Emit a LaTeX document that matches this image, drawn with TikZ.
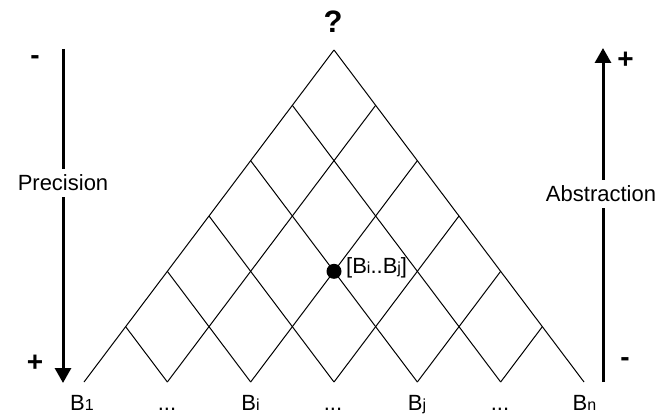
\documentclass[tikz,border=0pt]{standalone}
\usepackage{fontspec}
\setmainfont{Liberation Sans}
\usetikzlibrary{arrows.meta}
\tikzset{
  gridline/.style={line width=1pt, black},
  bigarrow/.style={line width=3pt, -{Triangle[width=16pt,length=15pt]}},
  lbl/.style={font=\fontsize{22}{26}\selectfont, inner sep=0pt},
  sign/.style={font=\fontsize{28}{30}\selectfont\bfseries, inner sep=0pt},
  axislbl/.style={font=\fontsize{22}{26}\selectfont, fill=white, inner xsep=2pt, inner ysep=6pt},
  blbl/.style={font=\fontsize{22}{26}\selectfont, inner sep=0pt, anchor=base},
}
\newcommand{\sbx}[1]{{\fontsize{16}{18}\selectfont #1}}
\begin{document}
\begin{tikzpicture}[x=1pt,y=-1pt]
\useasboundingbox (0,0) rectangle (672,414);
% grid points
\foreach \k in {0,...,6} {
  \coordinate (b\k) at ({84+500*\k/6}, 382);
  \coordinate (r\k) at ({84+250*(\k+6)/6}, {382-332*(6-\k)/6});
  \coordinate (l\k) at ({84+250*\k/6}, {382-332*\k/6});
}
\foreach \k in {0,...,5} { \draw[gridline] (b\k) -- (r\k); }
\foreach \k in {1,...,6} { \draw[gridline] (b\k) -- (l\k); }
% dot
\coordinate (mid) at (334, {382-332*2/6});
\fill (mid) circle (7.5);
\node[lbl, anchor=west] (mlbl) at (346,268) {[B\sbx{i}..B\sbx{j}]};
% top label
\node[font=\fontsize{31}{34}\selectfont\bfseries, inner sep=0pt] (q) at (333,22) {?};
% bottom labels
\node[blbl] (B1) at (82,410) {B\sbx{1}};
\node[blbl] (d1) at (167,410) {...};
\node[blbl] (Bi) at (250.5,410) {B\sbx{i}};
\node[blbl] (d2) at (333,410) {...};
\node[blbl] (Bj) at (417,410) {B\sbx{j}};
\node[blbl] (d3) at (500,410) {...};
\node[blbl] (Bn) at (584.5,410) {B\sbx{n}};
% left arrow
\coordinate (lt) at (63,49);
\coordinate (lb) at (63,383);
\draw[bigarrow] (lt) -- (lb);
\node[axislbl] (prec) at (63,183) {Precision};
\node[sign] (lminus) at (35,60) {-};
\node[sign] (lplus) at (35,363) {+};
% right arrow
\coordinate (rb) at (603,382);
\coordinate (rt) at (603,48);
\draw[bigarrow] (rb) -- (rt);
\node[axislbl] (abs) at (601,194) {Abstraction};
\node[sign] (rplus) at (625.5,60) {+};
\node[sign] (rminus) at (625,362) {-};
\end{tikzpicture}
\end{document}
